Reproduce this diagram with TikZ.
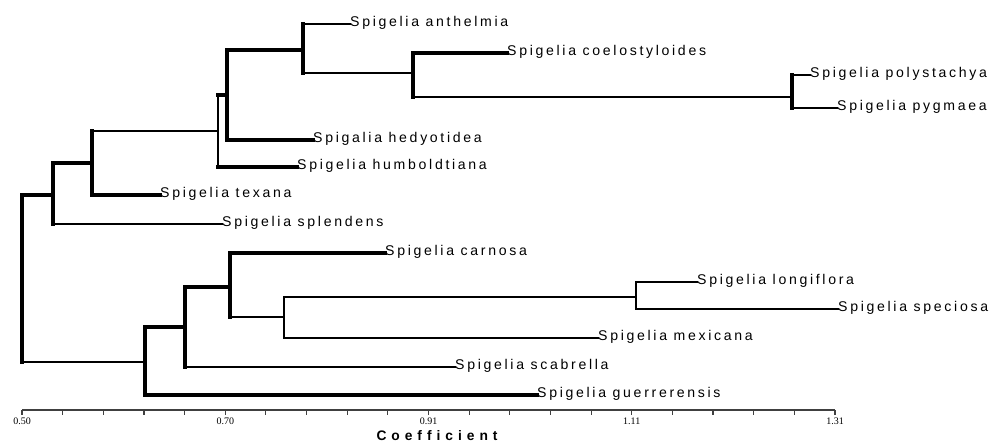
\documentclass[tikz,border=0pt]{standalone}
\usepackage{fontspec}
\usetikzlibrary{calc}
\newfontfamily\labfont[LetterSpace=19]{Liberation Sans}
\newfontfamily\axfont[LetterSpace=36]{Liberation Sans}
\newfontfamily\ticfont{Liberation Serif}
\begin{document}
\begin{tikzpicture}[x=1pt,y=-1pt,
  thk/.style={line width=3.2pt,line cap=rect},
  thn/.style={line width=2.0pt,line cap=rect},
  leaf/.style={anchor=base west,inner sep=0pt,yshift=-2.8pt,font=\labfont\fontsize{14.1}{15}\selectfont},
  ticklab/.style={anchor=center,inner sep=0pt,font=\ticfont\fontsize{10}{11}\selectfont},
  axlab/.style={anchor=center,inner sep=0pt,font=\axfont\bfseries\fontsize{13.8}{14}\selectfont}]
\useasboundingbox (0,0) rectangle (995,443);
% leaf end points
\coordinate (lAnth) at (350,24);
\coordinate (lCoelo) at (507,53);
\coordinate (lPoly) at (810,75);
\coordinate (lPyg) at (837,108);
\coordinate (lHed) at (313,140);
\coordinate (lHum) at (297,167);
\coordinate (lTex) at (160,195);
\coordinate (lSpl) at (222,224);
\coordinate (lCar) at (385,253);
\coordinate (lLon) at (697,282);
\coordinate (lSpe) at (838,309);
\coordinate (lMex) at (598,338);
\coordinate (lSca) at (455,367);
\coordinate (lGue) at (537,395);
% internal nodes
\coordinate (nPP) at (792,97);
\coordinate (nCo) at (413,73);
\coordinate (nAn) at (303,50);
\coordinate (nHe) at (227,95);
\coordinate (nHu) at (218,131);
\coordinate (nTx) at (92,163);
\coordinate (nSp) at (53,195);
\coordinate (nRoot) at (22,278);
\coordinate (nGu) at (145,362);
\coordinate (nSc) at (185,327);
\coordinate (nCa) at (230,287);
\coordinate (nMx) at (284,317);
\coordinate (nLo) at (636,297);
% labels
\node[leaf] (tAnth) at (lAnth) {Spigelia anthelmia};
\node[leaf] (tCoelo) at (lCoelo) {Spigelia coelostyloides};
\node[leaf] (tPoly) at (lPoly) {Spigelia polystachya};
\node[leaf] (tPyg) at (lPyg) {Spigelia pygmaea};
\node[leaf] (tHed) at (lHed) {Spigalia hedyotidea};
\node[leaf] (tHum) at (lHum) {Spigelia humboldtiana};
\node[leaf] (tTex) at (lTex) {Spigelia texana};
\node[leaf] (tSpl) at (lSpl) {Spigelia splendens};
\node[leaf] (tCar) at (lCar) {Spigelia carnosa};
\node[leaf] (tLon) at (lLon) {Spigelia longiflora};
\node[leaf] (tSpe) at (lSpe) {Spigelia speciosa};
\node[leaf] (tMex) at (lMex) {Spigelia mexicana};
\node[leaf] (tSca) at (lSca) {Spigelia scabrella};
\node[leaf] (tGue) at (lGue) {Spigelia guerrerensis};
% polystachya / pygmaea
\draw[thk] (lPoly -| nPP) -- (lPyg -| nPP);
\draw[thn] (lPoly -| nPP) -- (lPoly);
\draw[thn] (lPyg -| nPP) -- (lPyg);
% coelostyloides
\draw[thk] (lCoelo -| nCo) -- (nPP -| nCo);
\draw[thk] (lCoelo -| nCo) -- (lCoelo);
\draw[thn] (nPP -| nCo) -- (nPP);
% anthelmia
\draw[thk] (lAnth -| nAn) -- (nCo -| nAn);
\draw[thn] (lAnth -| nAn) -- (lAnth);
\draw[thn] (nCo -| nAn) -- (nCo);
% hedyotidea
\draw[thk] (nAn -| nHe) -- (lHed -| nHe);
\draw[thk] (nAn -| nHe) -- (nAn);
\draw[thk] (lHed -| nHe) -- (lHed);
% humboldtiana
\draw[thn] (nHe -| nHu) -- (lHum -| nHu);
\draw[thk] (nHe -| nHu) -- (nHe);
\draw[thk] (lHum -| nHu) -- (lHum);
% texana
\draw[thk] (nHu -| nTx) -- (lTex -| nTx);
\draw[thn] (nHu -| nTx) -- (nHu);
\draw[thk] (lTex -| nTx) -- (lTex);
% splendens
\draw[thk] (nTx -| nSp) -- (lSpl -| nSp);
\draw[thk] (nTx -| nSp) -- (nTx);
\draw[thn] (lSpl -| nSp) -- (lSpl);
% root
\draw[thk] (nSp -| nRoot) -- (nGu -| nRoot);
\draw[thk] (nSp -| nRoot) -- (nSp);
\draw[thn] (nGu -| nRoot) -- (nGu);
% lower clade
\draw[thk] (nSc -| nGu) -- (lGue -| nGu);
\draw[thk] (nSc -| nGu) -- (nSc);
\draw[thk] (lGue -| nGu) -- (lGue);
\draw[thk] (nCa -| nSc) -- (lSca -| nSc);
\draw[thk] (nCa -| nSc) -- (nCa);
\draw[thn] (lSca -| nSc) -- (lSca);
\draw[thk] (lCar -| nCa) -- (nMx -| nCa);
\draw[thk] (lCar -| nCa) -- (lCar);
\draw[thn] (nMx -| nCa) -- (nMx);
\draw[thn] (nLo -| nMx) -- (lMex -| nMx);
\draw[thn] (nLo -| nMx) -- (nLo);
\draw[thn] (lMex -| nMx) -- (lMex);
\draw[thn] (lLon -| nLo) -- (lSpe -| nLo);
\draw[thn] (lLon -| nLo) -- (lLon);
\draw[thn] (lSpe -| nLo) -- (lSpe);
% axis
\coordinate (ax0) at (22,410);
\coordinate (ax1) at (835,410);
\draw[line width=1.4pt,black!75] (ax0) -- (ax1);
\foreach \i in {0,...,20} {
  \draw[line width=1.2pt,black!75] ($(ax0)!\i/20!(ax1)$) -- ++(0,5);
}
\node[ticklab] (k0) at (22,421) {0.50};
\node[ticklab] (k1) at (225.25,421) {0.70};
\node[ticklab] (k2) at (428.5,421) {0.91};
\node[ticklab] (k3) at (631.75,421) {1.11};
\node[ticklab] (k4) at (835,421) {1.31};
\node[axlab] (ax) at (437,436) {Coefficient};
\end{tikzpicture}
\end{document}
